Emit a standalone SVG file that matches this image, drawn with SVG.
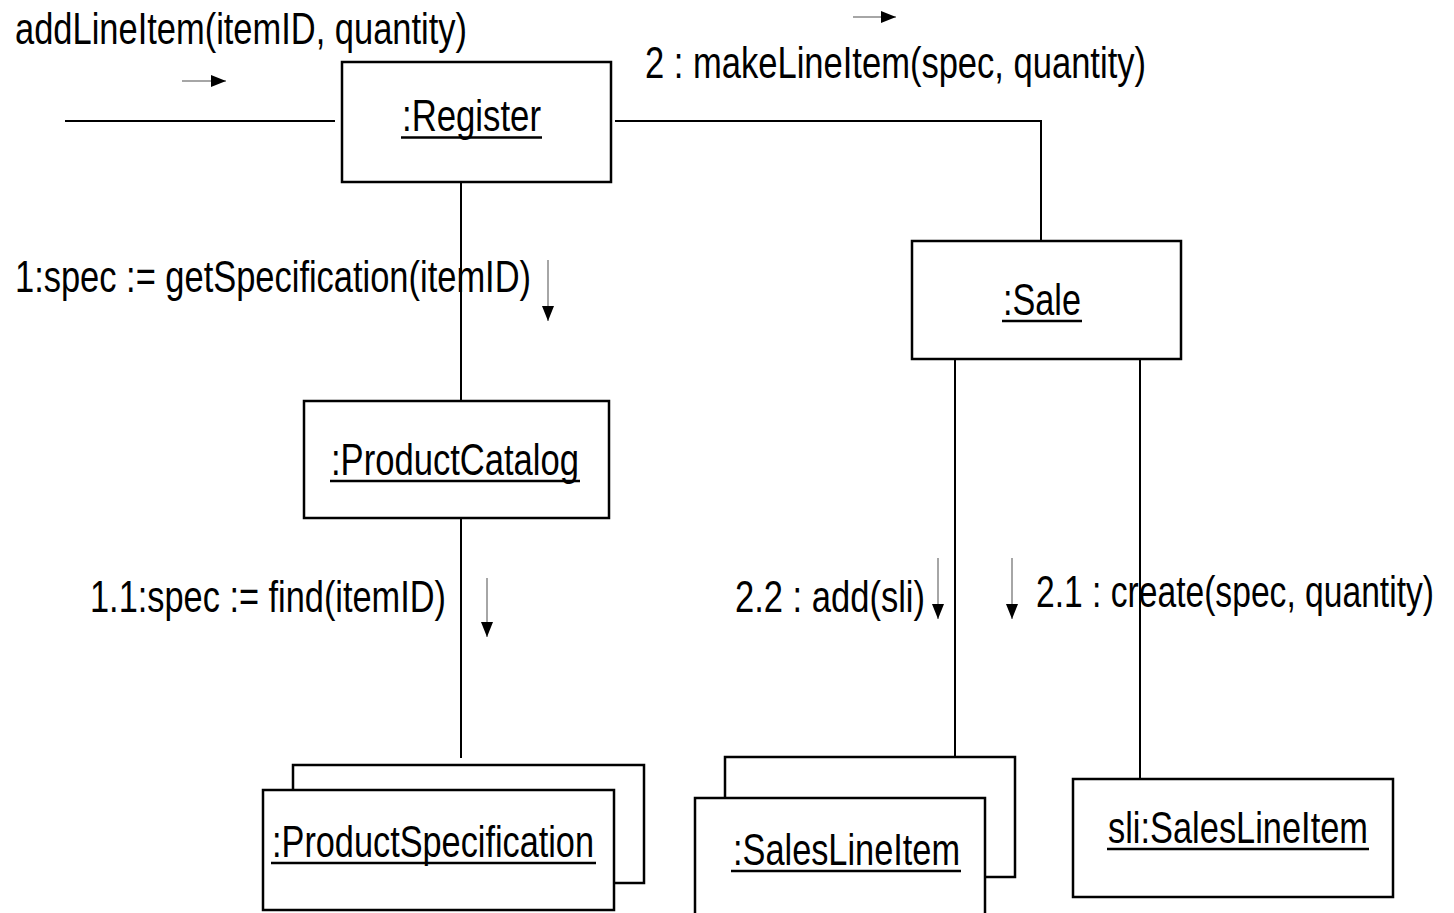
<svg xmlns="http://www.w3.org/2000/svg" width="1454" height="913" viewBox="0 0 1454 913">
<style>
.box{fill:#fff;stroke:#000;stroke-width:2.5}
.ln{fill:none;stroke:#000;stroke-width:2}
.ul{stroke:#000;stroke-width:2.5}
.arr{stroke:#888;stroke-width:1.5;marker-end:url(#ah)}
text{font-family:"Liberation Sans",Arial,sans-serif;font-size:44px;fill:#000}
</style>
<defs>
<marker id="ah" markerUnits="userSpaceOnUse" markerWidth="15" markerHeight="12" refX="15" refY="6" orient="auto">
<path d="M0,0 L15,6 L0,12 Z" fill="#000"/>
</marker>
</defs>
<rect width="1454" height="913" fill="#fff"/>
<g id="connectors">
<line class="ln" x1="65" y1="121" x2="335" y2="121"/>
<polyline class="ln" points="615,121 1041,121 1041,241"/>
<line class="ln" x1="461" y1="182" x2="461" y2="401"/>
<line class="ln" x1="461" y1="518" x2="461" y2="758"/>
<line class="ln" x1="955" y1="359" x2="955" y2="757"/>
<line class="ln" x1="1140" y1="359" x2="1140" y2="779"/>
</g>
<g id="messages">
<text x="15" y="44" textLength="452" lengthAdjust="spacingAndGlyphs">addLineItem(itemID, quantity)</text>
<line class="arr" x1="182" y1="81" x2="226" y2="81"/>
<text x="645" y="78" textLength="501" lengthAdjust="spacingAndGlyphs">2 : makeLineItem(spec, quantity)</text>
<line class="arr" x1="853" y1="17" x2="896" y2="17"/>
<text x="15" y="292" textLength="516" lengthAdjust="spacingAndGlyphs">1:spec := getSpecification(itemID)</text>
<line class="arr" x1="548" y1="260" x2="548" y2="321"/>
<text x="90" y="612" textLength="356" lengthAdjust="spacingAndGlyphs">1.1:spec := find(itemID)</text>
<line class="arr" x1="487" y1="578" x2="487" y2="637"/>
<text x="735" y="612" textLength="190" lengthAdjust="spacingAndGlyphs">2.2 : add(sli)</text>
<line class="arr" x1="938" y1="558" x2="938" y2="619"/>
<text x="1036" y="607" textLength="398" lengthAdjust="spacingAndGlyphs">2.1 : create(spec, quantity)</text>
<line class="arr" x1="1012" y1="558" x2="1012" y2="619"/>
</g>
<g id="register">
<rect class="box" x="342" y="62" width="269" height="120"/>
<text x="402" y="131" textLength="139" lengthAdjust="spacingAndGlyphs">:Register</text>
<line class="ul" x1="401" y1="137.5" x2="542" y2="137.5"/>
</g>
<g id="sale">
<rect class="box" x="912" y="241" width="269" height="118"/>
<text x="1003" y="315" textLength="78" lengthAdjust="spacingAndGlyphs">:Sale</text>
<line class="ul" x1="1002" y1="321" x2="1082" y2="321"/>
</g>
<g id="productCatalog">
<rect class="box" x="304" y="401" width="305" height="117"/>
<text x="331" y="475" textLength="248" lengthAdjust="spacingAndGlyphs">:ProductCatalog</text>
<line class="ul" x1="330" y1="481" x2="580" y2="481"/>
</g>
<g id="productSpecification">
<rect class="box" x="293" y="765" width="351" height="118"/>
<rect class="box" x="263" y="790" width="351" height="120"/>
<text x="272" y="857" textLength="322" lengthAdjust="spacingAndGlyphs">:ProductSpecification</text>
<line class="ul" x1="271" y1="863" x2="596" y2="863"/>
</g>
<g id="salesLineItems">
<rect class="box" x="725" y="757" width="290" height="120"/>
<rect class="box" x="695" y="798" width="290" height="125"/>
<text x="733" y="865" textLength="227" lengthAdjust="spacingAndGlyphs">:SalesLineItem</text>
<line class="ul" x1="731" y1="871" x2="961" y2="871"/>
</g>
<g id="sli">
<rect class="box" x="1073" y="779" width="320" height="118"/>
<text x="1108" y="843" textLength="260" lengthAdjust="spacingAndGlyphs">sli:SalesLineItem</text>
<line class="ul" x1="1107" y1="849" x2="1369" y2="849"/>
</g>
</svg>
